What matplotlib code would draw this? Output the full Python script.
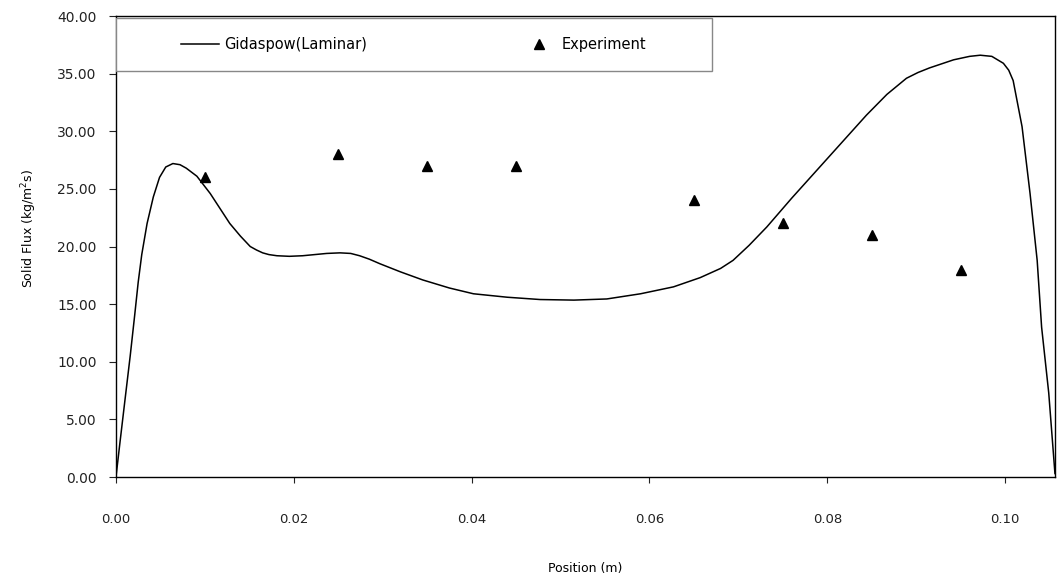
import matplotlib

matplotlib.use("Agg")
import matplotlib.pyplot as plt
from matplotlib.patches import Rectangle
from matplotlib.ticker import FormatStrFormatter, MultipleLocator

plt.rcParams["font.family"] = ["DejaVu Sans"]
plt.rcParams["mathtext.default"] = "regular"

# simulated profile, Gidaspow drag with laminar model
sim_pos = [0.0, 0.00045, 0.0010, 0.0016, 0.0021, 0.0025, 0.0029, 0.0035, 0.0042,
           0.0049, 0.0056, 0.0064, 0.0072, 0.0079, 0.0091, 0.0106, 0.0117, 0.0128,
           0.0140, 0.0151, 0.0158, 0.0165, 0.0172, 0.0181, 0.0195, 0.0210, 0.0237,
           0.0252, 0.0264, 0.0274, 0.0285, 0.0297, 0.0320, 0.0345, 0.0375, 0.0402,
           0.0440, 0.0477, 0.0515, 0.0552, 0.0590, 0.0627, 0.0657, 0.0680, 0.0694,
           0.0712, 0.0732, 0.0760, 0.0788, 0.0816, 0.0844, 0.0867, 0.0889, 0.0902,
           0.0915, 0.0942, 0.0960, 0.0972, 0.0985, 0.0998, 0.1004, 0.1009, 0.1019,
           0.1028, 0.1036, 0.1041, 0.1049, 0.1056]
sim_flux = [0.0, 3.0, 6.6, 10.5, 14.0, 16.9, 19.3, 22.0, 24.3,
            26.0, 26.9, 27.2, 27.1, 26.8, 26.1, 24.6, 23.3, 22.0,
            20.9, 20.0, 19.7, 19.45, 19.3, 19.2, 19.15, 19.2, 19.4,
            19.45, 19.4, 19.2, 18.9, 18.5, 17.8, 17.1, 16.4, 15.9,
            15.6, 15.4, 15.35, 15.45, 15.9, 16.5, 17.3, 18.1, 18.8,
            20.1, 21.7, 24.2, 26.6, 29.0, 31.4, 33.2, 34.6, 35.1,
            35.5, 36.2, 36.5, 36.6, 36.5, 35.9, 35.3, 34.4, 30.4,
            24.6, 18.8, 13.0, 7.3, 0.3]

# measured solid flux
exp_pos = [0.010, 0.025, 0.035, 0.045, 0.065, 0.075, 0.085, 0.095]
exp_flux = [26.0, 28.0, 27.0, 27.0, 24.0, 22.0, 21.0, 18.0]

fig = plt.figure(figsize=(10.61, 5.85), dpi=100)
ax = fig.add_axes([0.1093, 0.1846, 0.885, 0.788])

ax.plot(sim_pos, sim_flux, color="black", lw=1.1, label="Gidaspow(Laminar)")
ax.plot(exp_pos, exp_flux, ls="none", marker="^", ms=7, color="black",
        label="Experiment")

ax.set_xlim(0, 0.1056)
ax.set_ylim(0, 40)
ax.xaxis.set_major_locator(MultipleLocator(0.02))
ax.yaxis.set_major_locator(MultipleLocator(5))
ax.xaxis.set_major_formatter(FormatStrFormatter("%.2f"))
ax.yaxis.set_major_formatter(FormatStrFormatter("%.2f"))
ax.tick_params(axis="x", direction="out", length=4, pad=22, labelsize=9.5,
               colors="#222222")
ax.tick_params(axis="y", direction="out", length=5, pad=9, labelsize=10,
               colors="#222222")
for side in ax.spines.values():
    side.set_linewidth(1.0)

ax.set_xlabel("Position (m)", fontsize=9, labelpad=26)
ax.set_ylabel("Solid Flux (kg/m$^2$s)", fontsize=9)
ax.yaxis.set_label_coords(-0.082, 0.54)

# legend box across the top of the plot area
box = (0.0, 0.881, 0.635, 0.115)
ax.add_patch(Rectangle(box[:2], box[2], box[3], transform=ax.transAxes,
                       facecolor="white", edgecolor="#888888", lw=1.0, zorder=3))
leg = ax.legend(loc="center", bbox_to_anchor=box, ncol=2, frameon=False,
                fontsize=10.5, handlelength=2.6, columnspacing=10.5,
                handletextpad=0.3)
leg.set_zorder(4)

fig.savefig("out.png", dpi=100)
